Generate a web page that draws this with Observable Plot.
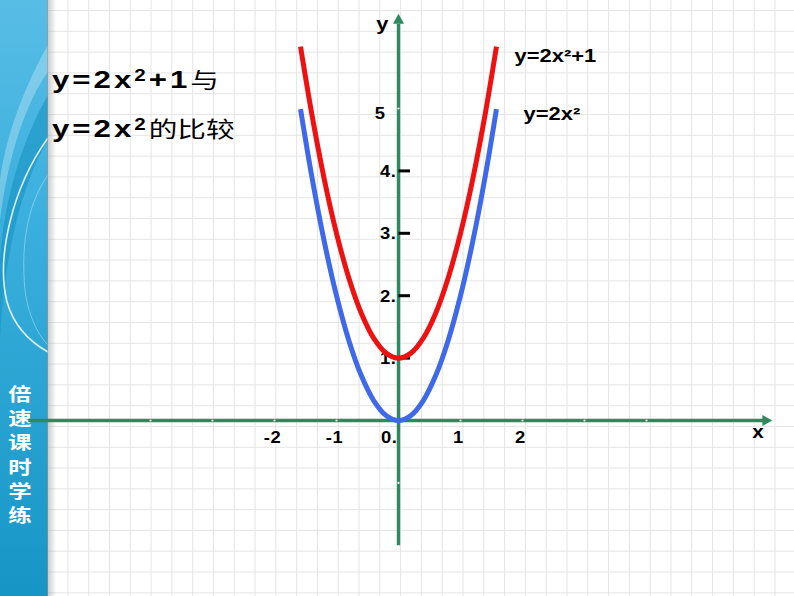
<!DOCTYPE html>
<html>
<head>
<meta charset="utf-8">
<script src="https://cdn.jsdelivr.net/npm/d3@7"></script>
<script src="https://cdn.jsdelivr.net/npm/@observablehq/plot@0.6"></script>
<style>
  html, body { margin: 0; padding: 0; background: #fff; }
  #wrap {
    position: relative; width: 794px; height: 596px; overflow: hidden;
    background-color: #fff;
    background-image:
      linear-gradient(to right, #e4e4e4 1px, transparent 1px),
      linear-gradient(to bottom, #e4e4e4 1px, transparent 1px);
    background-size: 20.8px 20.8px;
    background-position: 5px 10px;
  }
  #sidebar { position: absolute; left: 0; top: 0; width: 48px; height: 596px; }
  #shadow { position: absolute; left: 47px; top: 0; width: 9px; height: 596px;
    background: linear-gradient(to right, rgba(150,150,150,0.55), rgba(200,200,200,0)); }
  #sidetext { position: absolute; left: 0; top: 381px; width: 40px;
    font-family: "Noto Sans CJK SC", sans-serif; font-weight: 700; font-size: 18px;
    color: #fff; line-height: 24.2px; text-align: center; transform: scaleX(1.3); transform-origin: 20px 0; }
  #chart { position: absolute; left: 0; top: 0; }
  .title { position: absolute; left: 52px; font-size: 24px; line-height: 24px; white-space: nowrap;
    transform: scaleX(1.3); transform-origin: 0 0; color: #000; }
  .title .lat { font-family: "Liberation Sans", Arial, sans-serif; font-weight: 700; letter-spacing: 2.3px; }
  .title .cn { font-family: "Noto Sans CJK SC", sans-serif; font-weight: 400; font-size: 22px; }
  .title sup { font-size: 0.66em; line-height: 0; vertical-align: 0.45em; }
</style>
</head>
<body>
<div id="wrap">
  <div id="sidebar">
    <svg width="48" height="596" viewBox="0 0 48 596">
      <defs>
        <linearGradient id="sg" x1="0" y1="0" x2="0" y2="1">
          <stop offset="0" stop-color="#58bde5"/>
          <stop offset="0.35" stop-color="#3cb0de"/>
          <stop offset="1" stop-color="#1696c5"/>
        </linearGradient>
      </defs>
      <rect x="0" y="0" width="48" height="596" fill="url(#sg)"/>
      <path d="M48,45 C25,85 6,135 0,180 L0,220 C8,155 27,100 48,72 Z" fill="#ffffff" opacity="0.28"/>
      <path d="M48,95 C22,140 4,200 0,260 L0,340 C4,250 24,180 48,140 Z" fill="#1490c0" opacity="0.55"/>
      <path d="M48,138 C12,188 -4,258 7,302 C14,326 30,342 48,352" fill="none" stroke="#ffffff" stroke-width="1.6" opacity="0.85"/>
      <path d="M48,175 C30,200 20,240 25,290 C28,315 38,335 48,345" fill="none" stroke="#ffffff" stroke-width="1" opacity="0.35"/>
    </svg>
  </div>
  <div id="shadow"></div>
  <div id="sidetext"></div>
  <div id="chart"></div>
  <div class="title" id="t1"></div>
  <div class="title" id="t2"></div>
</div>
<script>
// ---------- data ----------
const xs    = [-1.58, -1.4, -1.2, -1.0, -0.8, -0.6, -0.4, -0.2, 0, 0.2, 0.4, 0.6, 0.8, 1.0, 1.2, 1.4, 1.58];
const blueY = [4.99, 3.92, 2.88, 2.0, 1.28, 0.72, 0.32, 0.08, 0, 0.08, 0.32, 0.72, 1.28, 2.0, 2.88, 3.92, 4.99];
const redY  = [5.99, 4.92, 3.88, 3.0, 2.28, 1.72, 1.32, 1.08, 1.0, 1.08, 1.32, 1.72, 2.28, 3.0, 3.88, 4.92, 5.99];
const seriesNames = ["y=2x²+1", "y=2x²"];
const yTicks = [1, 2, 3, 4];
const yTickLabels = ["1.", "2.", "3.", "4."];
const yTopTick = [5];
const yTopLabel = ["5"];
const xTicks = [-2, -1, 1, 2];
const xTickLabels = ["-2", "-1", "1", "2"];
const originLabel = ["0."];
const axisNames = ["x", "y"];
const notchX = [-4, -3, -2, -1, 1, 2, 3, 4];
const notchY = [-1, 5];
const axisXRange = [-5.97, 5.9, 6.03];   // start, arrow base, arrow tip
const axisYRange = [-2.0, 6.36, 6.52];
const sideText = ["倍", "速", "课", "时", "学", "练"];
const titleLine1 = ["y=2x", "2", "+1", "与"];
const titleLine2 = ["y=2x", "2", "的比较"];

// ---------- titles (HTML) ----------
document.getElementById("sidetext").innerHTML = sideText.join("<br>");
const t1 = document.getElementById("t1");
t1.style.top = "66px";
t1.innerHTML = `<span class="lat">${titleLine1[0]}<sup>${titleLine1[1]}</sup>${titleLine1[2]}</span><span class="cn">${titleLine1[3]}</span>`;
const t2 = document.getElementById("t2");
t2.style.top = "115px";
t2.innerHTML = `<span class="lat">${titleLine2[0]}<sup>${titleLine2[1]}</sup></span><span class="cn">${titleLine2[2]}</span>`;

// ---------- chart ----------
const W = 794, H = 596;
const originX = 398, originY = 420, unitX = 62, unitY = 62.4;
const green = "#2b8b5c", red = "#ee1111", blue = "#3f69e8";
const font = "'Liberation Sans', Arial, sans-serif";

const blueData = xs.map((x, i) => ({x, y: blueY[i]}));
const redData = xs.map((x, i) => ({x, y: redY[i]}));

const arrowRight = { draw(ctx) { ctx.moveTo(0, 0); ctx.lineTo(-10, -5.5); ctx.lineTo(-10, 5.5); ctx.closePath(); } };
const arrowUp = { draw(ctx) { ctx.moveTo(0, 0); ctx.lineTo(-5.5, 10); ctx.lineTo(5.5, 10); ctx.closePath(); } };

const chart = Plot.plot({
  width: W, height: H,
  marginTop: 0, marginRight: 0, marginBottom: 0, marginLeft: 0,
  style: { background: "transparent", fontFamily: font, overflow: "visible" },
  x: { domain: [-originX / unitX, (W - originX) / unitX], axis: null },
  y: { domain: [-(H - originY) / unitY, originY / unitY], axis: null },
  marks: [
    // axes
    Plot.link([0], { x1: axisXRange[0], x2: axisXRange[1], y1: 0, y2: 0, stroke: green, strokeWidth: 3.4 }),
    Plot.link([0], { x1: 0, x2: 0, y1: axisYRange[0], y2: axisYRange[1], stroke: green, strokeWidth: 3.4 }),
    Plot.dot([0], { x: axisXRange[2], y: 0, symbol: arrowRight, fill: green, stroke: "none", r: 5 }),
    Plot.dot([0], { x: 0, y: axisYRange[2], symbol: arrowUp, fill: green, stroke: "none", r: 5 }),
    // white notches on axes
    Plot.dot(notchX, { x: d => d, y: 0, r: 1.1, fill: "#fff", stroke: "none" }),
    Plot.dot(notchY, { x: 0, y: d => d, r: 1.1, fill: "#fff", stroke: "none" }),
    // y tick dashes
    Plot.link(yTicks, { x1: 0, x2: 11.5 / unitX, y1: d => d, y2: d => d, stroke: "#000", strokeWidth: 3 }),
    // tick labels
    Plot.text(yTicks, { x: 0, y: d => d, text: (d, i) => yTickLabels[i], textAnchor: "end", dx: -2, dy: 1, fontSize: 16, fontWeight: 700, fill: "#000" }),
    Plot.text(yTopTick, { x: 0, y: d => d, text: (d, i) => yTopLabel[i], textAnchor: "end", dx: -13, dy: 5, fontSize: 16, fontWeight: 700, fill: "#000" }),
    Plot.text(xTicks, { x: d => d, y: 0, text: (d, i) => xTickLabels[i], textAnchor: "middle", dx: -2, dy: 17, fontSize: 16, fontWeight: 700, fill: "#000" }),
    Plot.text([0], { x: 0, y: 0, text: (d, i) => originLabel[i], textAnchor: "end", dx: -1, dy: 17, fontSize: 16, fontWeight: 700, fill: "#000" }),
    // axis names
    Plot.text([axisNames[0]], { x: axisXRange[2], y: 0, text: d => d, textAnchor: "middle", dx: -14, dy: 12, fontSize: 18, fontWeight: 700, fill: "#000" }),
    Plot.text([axisNames[1]], { x: 0, y: axisYRange[2], text: d => d, textAnchor: "middle", dx: -16, dy: 10, fontSize: 19, fontWeight: 700, fill: "#000" }),
    // curves
    Plot.line(blueData, { x: "x", y: "y", stroke: blue, strokeWidth: 5, curve: "catmull-rom", strokeLinecap: "butt" }),
    Plot.line(redData, { x: "x", y: "y", stroke: red, strokeWidth: 5, curve: "catmull-rom", strokeLinecap: "butt" }),
    // curve labels
    Plot.text([redData[redData.length - 1]], { x: "x", y: "y", text: () => seriesNames[0], textAnchor: "start", dx: 18, dy: 10, fontSize: 18, fontWeight: 700, fill: "#000" }),
    Plot.text([blueData[blueData.length - 1]], { x: "x", y: "y", text: () => seriesNames[1], textAnchor: "start", dx: 27, dy: 5, fontSize: 18, fontWeight: 700, fill: "#000" })
  ]
});

// the reference slide is horizontally stretched: widen glyphs around their anchor
function stretchText(node, s) {
  const lx = parseFloat(node.getAttribute("x")) || 0;
  const t = node.getAttribute("transform") || "";
  node.setAttribute("transform", `${t} translate(${lx},0) scale(${s},1) translate(${-lx},0)`.trim());
}
const tickSet = new Set([...yTickLabels, ...yTopLabel, ...xTickLabels, ...originLabel, ...axisNames]);
d3.select(chart).selectAll("text").each(function() {
  const s = this.textContent;
  if (seriesNames.includes(s)) stretchText(this, 1.22);
  else if (tickSet.has(s)) { stretchText(this, 1.15); this.style.letterSpacing = "0.5px"; }
});
document.getElementById("chart").appendChild(chart);
</script>
</body>
</html>
